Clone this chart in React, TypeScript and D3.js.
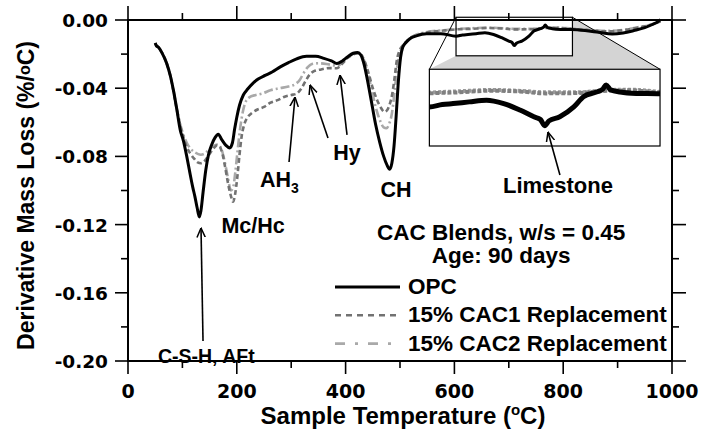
import React from 'react';
import * as d3 from 'd3';

type Pt = [number, number];

// ---------- data ----------
const xTickValues = [0, 200, 400, 600, 800, 1000];
const xTickLabels = ['0', '200', '400', '600', '800', '1000'];
const xMinorValues = [100, 300, 500, 700, 900];
const yTickValues = [0, -0.04, -0.08, -0.12, -0.16, -0.2];
const yTickLabels = ['0.00', '-0.04', '-0.08', '-0.12', '-0.16', '-0.20'];
const yMinorValues = [-0.02, -0.06, -0.1, -0.14, -0.18];
const seriesLabels = ['OPC', '15% CAC1 Replacement', '15% CAC2 Replacement'];

const opc: Pt[] = [
  [50, -0.0135], [52, -0.015], [56, -0.016], [62, -0.019], [71, -0.0254], [78, -0.033], [84, -0.042],
  [90, -0.053], [96, -0.0645], [102, -0.071], [108, -0.08], [114, -0.09], [119, -0.098], [123, -0.1036],
  [127, -0.11], [131, -0.1155], [134, -0.112], [138, -0.101], [143, -0.088], [148, -0.079], [154, -0.073],
  [160, -0.069], [166, -0.067], [172, -0.07], [180, -0.0735], [187, -0.075], [192, -0.072], [196, -0.064],
  [200, -0.057], [205, -0.05], [212, -0.044], [220, -0.0405], [230, -0.037], [240, -0.0345], [252, -0.0325],
  [265, -0.0305], [280, -0.0275], [295, -0.025], [310, -0.0228], [328, -0.0213], [345, -0.0213],
  [360, -0.0225], [374, -0.024], [384, -0.0255], [394, -0.024], [404, -0.0215], [414, -0.0195],
  [422, -0.019], [428, -0.0205], [434, -0.026], [440, -0.035], [447, -0.047], [455, -0.061], [463, -0.072],
  [470, -0.08], [476, -0.085], [481, -0.0875], [485, -0.084], [489, -0.074], [493, -0.056], [497, -0.036],
  [501, -0.022], [505, -0.016], [511, -0.0132], [518, -0.011], [530, -0.0093], [549, -0.008], [575, -0.008],
  [603, -0.0095], [615, -0.0088], [625, -0.0085], [640, -0.008], [656, -0.0075], [672, -0.0085],
  [687, -0.0104], [700, -0.0124], [706, -0.0132], [710, -0.015], [714, -0.0136], [724, -0.0124],
  [737, -0.0095], [746, -0.0065], [758, -0.0051], [764, -0.0042], [767, -0.003], [771, -0.0044],
  [780, -0.0051], [795, -0.0055], [815, -0.0056], [840, -0.0062], [865, -0.0072], [890, -0.0082],
  [910, -0.0076], [930, -0.0062], [950, -0.0045], [965, -0.0025], [975, -0.0008], [979, 0.0003],
];

const cac1: Pt[] = [
  [50, -0.0135], [52, -0.015], [56, -0.016], [62, -0.019], [71, -0.0254], [78, -0.033], [84, -0.0425],
  [90, -0.053], [96, -0.062], [102, -0.069], [108, -0.0745], [115, -0.0785], [122, -0.0815], [128, -0.0835],
  [134, -0.084], [140, -0.083], [146, -0.0805], [152, -0.0775], [158, -0.075], [164, -0.0735], [169, -0.0745],
  [174, -0.079], [179, -0.087], [184, -0.096], [189, -0.103], [193, -0.1066], [197, -0.102], [201, -0.092],
  [205, -0.079], [209, -0.068], [214, -0.061], [220, -0.057], [228, -0.0545], [238, -0.0525], [250, -0.051],
  [262, -0.0485], [275, -0.047], [288, -0.045], [300, -0.044], [310, -0.0432], [318, -0.0405], [326, -0.036],
  [334, -0.032], [342, -0.03], [355, -0.029], [370, -0.0282], [384, -0.0283], [394, -0.0255], [404, -0.0222],
  [414, -0.0202], [424, -0.0195], [430, -0.021], [436, -0.025], [442, -0.031], [450, -0.04], [458, -0.047],
  [465, -0.0515], [471, -0.0538], [476, -0.053], [481, -0.0495], [486, -0.043], [490, -0.034], [494, -0.024],
  [499, -0.018], [505, -0.015], [512, -0.0125], [520, -0.0102], [535, -0.0085], [550, -0.0073], [580, -0.0062],
  [603, -0.0055], [630, -0.0052], [660, -0.0047], [690, -0.005], [711, -0.0055], [740, -0.0054],
  [770, -0.0047], [790, -0.0046], [815, -0.0052], [850, -0.006], [880, -0.0067], [910, -0.006],
  [940, -0.0043], [960, -0.003], [979, -0.0008],
];

const cac2: Pt[] = [
  [50, -0.0135], [52, -0.0148], [56, -0.016], [62, -0.0188], [71, -0.025], [78, -0.0325], [84, -0.042],
  [90, -0.0525], [96, -0.061], [102, -0.0675], [108, -0.072], [115, -0.0755], [122, -0.0775], [128, -0.0785],
  [134, -0.079], [140, -0.0785], [146, -0.077], [152, -0.075], [158, -0.0738], [164, -0.073], [169, -0.074],
  [174, -0.078], [179, -0.085], [184, -0.093], [189, -0.1], [193, -0.0985], [197, -0.09], [201, -0.078],
  [206, -0.064], [211, -0.054], [217, -0.0475], [225, -0.045], [235, -0.044], [248, -0.043], [262, -0.0412],
  [279, -0.04], [295, -0.039], [308, -0.0375], [316, -0.035], [323, -0.031], [330, -0.0278], [338, -0.0258],
  [350, -0.0254], [365, -0.0258], [378, -0.0266], [386, -0.027], [396, -0.024], [406, -0.0212], [416, -0.0196],
  [425, -0.0193], [431, -0.0215], [437, -0.0265], [443, -0.034], [450, -0.044], [457, -0.053], [464, -0.0595],
  [470, -0.063], [475, -0.0635], [480, -0.061], [485, -0.055], [489, -0.045], [493, -0.033], [497, -0.023],
  [502, -0.0175], [508, -0.0145], [515, -0.0118], [525, -0.0095], [550, -0.007], [580, -0.006], [603, -0.0053],
  [630, -0.0049], [660, -0.0045], [690, -0.0048], [711, -0.0052], [740, -0.0052], [770, -0.0045],
  [790, -0.0044], [815, -0.005], [850, -0.0058], [880, -0.0064], [910, -0.0058], [940, -0.004],
  [960, -0.0028], [979, -0.0006],
];

// zoom window and inset box (data units)
const zoomT: [number, number] = [603, 817];
const zoomV: [number, number] = [0.0016, -0.021];
const insetT: [number, number] = [554, 978];
const insetV: [number, number] = [-0.0289, -0.0739];

// annotation labels (data coordinates)
const labels = [
  { text: 'C-S-H, AFt', t: 144, v: -0.2012, size: 19.5 },
  { text: 'Mc/Hc', t: 230, v: -0.1249, size: 21.5 },
  { text: 'Hy', t: 402.6, v: -0.0821, size: 21.5 },
  { text: 'CH', t: 492.6, v: -0.1038, size: 21.5 },
  { text: 'Limestone', t: 790.4, v: -0.1015, size: 22 },
  { text: 'CAC Blends, w/s = 0.45', t: 686, v: -0.129, size: 22.5 },
  { text: 'Age: 90 days', t: 686, v: -0.1425, size: 22.5 },
];
const arrows: { from: Pt; to: Pt }[] = [
  { from: [137.9, -0.1883], to: [134.2, -0.122] },
  { from: [296, -0.0833], to: [307, -0.0452] },
  { from: [367.6, -0.0692], to: [334.6, -0.0381] },
  { from: [402.6, -0.0674], to: [389.7, -0.0323] },
  { from: [794, -0.0909], to: [772, -0.0657] },
];

// ---------- layout ----------
const W = 701;
const H = 438;
const PL = 128, PR = 672, PT = 20, PB = 361;
const FONT = "'Liberation Sans', Arial, sans-serif";
const TICKFONT = "'DejaVu Sans', sans-serif";

export default function App() {
  const x = d3.scaleLinear().domain([0, 1000]).range([PL, PR]);
  const y = d3.scaleLinear().domain([0, -0.2]).range([PT, PB]);

  const line = d3.line<Pt>().x(d => x(d[0])).y(d => y(d[1])).curve(d3.curveMonotoneX);

  const bx0 = x(insetT[0]), bx1 = x(insetT[1]), by0 = y(insetV[0]), by1 = y(insetV[1]);
  const zx0 = x(zoomT[0]), zx1 = x(zoomT[1]), zy0 = y(zoomV[0]), zy1 = y(zoomV[1]);
  const xi = d3.scaleLinear().domain(zoomT).range([bx0, bx1]);
  const yi = d3.scaleLinear().domain(zoomV).range([by0, by1]);
  const lineIn = d3.line<Pt>().x(d => xi(d[0])).y(d => yi(d[1])).curve(d3.curveMonotoneX);

  const styles = [
    { color: '#000', width: 3, dash: undefined as string | undefined },
    { color: '#727272', width: 2.6, dash: '5,3' },
    { color: '#a9a9a9', width: 2.6, dash: '9,3,2,3' },
  ];
  const legendDash = [undefined, '6,5', '10,10,3,10'];
  const series = [opc, cac1, cac2];

  const connector = [
    [zx0, zy1], [bx0, by0], [bx1, by0], [zx1, zy0], [zx1, zy1],
  ].map(p => p.join(',')).join(' ');

  return (
    <svg width={W} height={H} style={{ position: 'absolute', left: 0, top: 0, background: '#fff' }}
      fontFamily={FONT} fontWeight="bold">
      <defs>
        <marker id="arrowHead" viewBox="0 0 10 10" refX="9.5" refY="5" markerWidth="10" markerHeight="10"
          markerUnits="userSpaceOnUse" orient="auto">
          <path d="M0,0.8 L9.5,5 L0,9.2" fill="none" stroke="#000" strokeWidth="1.5" />
        </marker>
        <clipPath id="insetClip">
          <rect x={bx0} y={by0} width={bx1 - bx0} height={by1 - by0} />
        </clipPath>
        <clipPath id="plotClip">
          <rect x={PL} y={0} width={PR - PL} height={PB} />
        </clipPath>
      </defs>
      <rect x={0} y={0} width={W} height={H} fill="#fff" />

      {/* zoom connector fill */}
      <polygon points={connector} fill="#d4d4d4" stroke="none" />

      {/* main curves */}
      <g clipPath="url(#plotClip)">
        {[2, 1, 0].map(i => (
          <path key={i} d={line(series[i]) || ''} fill="none" stroke={styles[i].color}
            strokeWidth={styles[i].width} strokeDasharray={styles[i].dash} strokeLinejoin="round" />
        ))}
      </g>

      {/* zoom window & connector lines */}
      <rect x={zx0} y={zy0} width={zx1 - zx0} height={zy1 - zy0} fill="none" stroke="#000" strokeWidth={1.2} />
      <line x1={zx0} y1={zy0} x2={bx0} y2={by0} stroke="#000" strokeWidth={1} />
      <line x1={zx1} y1={zy0} x2={bx1} y2={by0} stroke="#000" strokeWidth={1} />

      {/* inset */}
      <rect x={bx0} y={by0} width={bx1 - bx0} height={by1 - by0} fill="#fff" stroke="none" />
      <g clipPath="url(#insetClip)">
        <path d={lineIn(cac2) || ''} fill="none" stroke="#9a9a9a" strokeWidth={4} strokeDasharray="3,2" />
        <path d={lineIn(cac1) || ''} fill="none" stroke="#808080" strokeWidth={4} strokeDasharray="4,2" />
        <path d={lineIn(opc) || ''} fill="none" stroke="#000" strokeWidth={5} strokeLinejoin="round" />
      </g>
      <rect x={bx0} y={by0} width={bx1 - bx0} height={by1 - by0} fill="none" stroke="#000" strokeWidth={1.2} />

      {/* frame */}
      <rect x={PL} y={PT} width={PR - PL} height={PB - PT} fill="none" stroke="#000" strokeWidth={2} />

      {/* ticks */}
      {xTickValues.map(v => (
        <g key={'xt' + v}>
          <line x1={x(v)} x2={x(v)} y1={PB} y2={PB + 13} stroke="#000" strokeWidth={1.6} />
          <line x1={x(v)} x2={x(v)} y1={PT} y2={PT - 14} stroke="#000" strokeWidth={1.6} />
        </g>
      ))}
      {xMinorValues.map(v => (
        <g key={'xm' + v}>
          <line x1={x(v)} x2={x(v)} y1={PB} y2={PB + 7} stroke="#000" strokeWidth={1.6} />
          <line x1={x(v)} x2={x(v)} y1={PT} y2={PT - 7} stroke="#000" strokeWidth={1.6} />
        </g>
      ))}
      {yTickValues.map(v => (
        <g key={'yt' + v}>
          <line x1={PL - 13} x2={PL} y1={y(v)} y2={y(v)} stroke="#000" strokeWidth={1.6} />
          <line x1={PR} x2={PR + 14} y1={y(v)} y2={y(v)} stroke="#000" strokeWidth={1.6} />
        </g>
      ))}
      {yMinorValues.map(v => (
        <g key={'ym' + v}>
          <line x1={PL - 7} x2={PL} y1={y(v)} y2={y(v)} stroke="#000" strokeWidth={1.6} />
          <line x1={PR} x2={PR + 7} y1={y(v)} y2={y(v)} stroke="#000" strokeWidth={1.6} />
        </g>
      ))}

      {/* tick labels */}
      {xTickValues.map((v, i) => (
        <text key={'xl' + v} x={x(v)} y={PB + 37} textAnchor="middle" fontFamily={TICKFONT} fontSize={19}>
          {xTickLabels[i]}
        </text>
      ))}
      {yTickValues.map((v, i) => (
        <text key={'yl' + v} x={PL - 20} y={y(v) + 7} textAnchor="end" fontFamily={TICKFONT} fontSize={18.5}>
          {yTickLabels[i]}
        </text>
      ))}

      {/* axis titles */}
      <text x={(PL + PR) / 2 + 3} y={424} textAnchor="middle" fontSize={24}>
        Sample Temperature (<tspan fontSize={15} dy={-9}>o</tspan><tspan dy={9}>C)</tspan>
      </text>
      <text transform={`translate(34,${(PT + PB) / 2 + 5}) rotate(-90)`} textAnchor="middle" fontSize={23}>
        Derivative Mass Loss (%/<tspan fontSize={16} dy={-4}>o</tspan><tspan dy={4}>C)</tspan>
      </text>

      {/* annotations */}
      {labels.map(l => (
        <text key={l.text} x={x(l.t)} y={y(l.v)} textAnchor="middle" fontSize={l.size}>{l.text}</text>
      ))}
      <text x={x(242.6)} y={y(-0.0979)} fontSize={21.5}>AH<tspan fontSize={14} dy={6}>3</tspan></text>
      {arrows.map((a, i) => (
        <line key={'ar' + i} x1={x(a.from[0])} y1={y(a.from[1])} x2={x(a.to[0])} y2={y(a.to[1])}
          stroke="#000" strokeWidth={1.6} markerEnd="url(#arrowHead)" />
      ))}

      {/* legend */}
      {seriesLabels.map((s, i) => (
        <g key={s} transform={`translate(335,${287 + i * 28.3})`}>
          <line x1={0} x2={65} y1={0} y2={0} stroke={styles[i].color} strokeWidth={i === 0 ? 3.2 : 2.6}
            strokeDasharray={legendDash[i]} />
          <text x={73} y={7} fontSize={22.5}>{s}</text>
        </g>
      ))}
    </svg>
  );
}
